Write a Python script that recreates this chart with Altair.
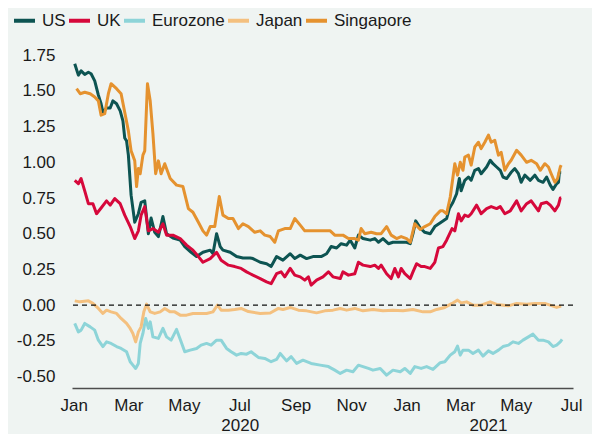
import altair as alt
import pandas as pd

series_names = ["US", "UK", "Eurozone", "Japan", "Singapore"]
series_colors = ["#0d5452", "#d6083b", "#8dd4d8", "#f4c07f", "#e5922f"]

# day offsets from 2020-01-01 and values
us_days = [1, 5, 8, 12, 16, 19, 23, 27, 30, 32, 36, 40, 43, 47, 51, 54, 56, 58, 60, 63, 67, 71, 74, 78, 82, 85, 89, 93, 98, 102, 109, 117, 122, 129, 135, 142, 150, 153, 157, 161, 164, 172, 179, 186, 194, 197, 205, 212, 217, 223, 230, 238, 243, 249, 256, 263, 272, 278, 283, 289, 294, 300, 304, 309, 313, 318, 326, 331, 335, 340, 346, 351, 359, 366, 370, 373, 376, 381, 386, 392, 397, 404, 410, 413, 417, 421, 424, 426, 430, 434, 437, 441, 445, 448, 454, 458, 461, 465, 469, 472, 476, 481, 485, 489, 492, 496, 502, 507, 511, 516, 520, 524, 527, 531, 533, 534, 536]
us_vals = [1.69, 1.61, 1.64, 1.615, 1.63, 1.62, 1.57, 1.47, 1.41, 1.35, 1.38, 1.38, 1.43, 1.41, 1.36, 1.29, 1.17, 1.15, 1.05, 0.77, 0.58, 0.64, 0.72, 0.73, 0.50, 0.61, 0.51, 0.48, 0.62, 0.50, 0.47, 0.455, 0.41, 0.37, 0.34, 0.37, 0.385, 0.36, 0.50, 0.41, 0.385, 0.37, 0.34, 0.33, 0.33, 0.326, 0.30, 0.29, 0.27, 0.34, 0.315, 0.36, 0.326, 0.35, 0.326, 0.34, 0.34, 0.36, 0.41, 0.40, 0.43, 0.42, 0.455, 0.40, 0.49, 0.466, 0.455, 0.466, 0.44, 0.466, 0.43, 0.44, 0.44, 0.44, 0.43, 0.50, 0.59, 0.54, 0.51, 0.50, 0.55, 0.58, 0.606, 0.676, 0.72, 0.78, 0.886, 0.80, 0.874, 0.897, 0.874, 0.944, 0.956, 0.92, 0.967, 1.014, 0.99, 0.967, 0.944, 0.897, 0.886, 0.93, 0.956, 0.92, 0.86, 0.91, 0.874, 0.91, 0.874, 0.86, 0.897, 0.84, 0.81, 0.85, 0.86, 0.93, 0.93]

uk_days = [1, 5, 8, 12, 16, 21, 25, 30, 36, 40, 45, 51, 56, 62, 67, 71, 74, 78, 82, 87, 93, 98, 102, 109, 117, 124, 131, 137, 142, 150, 157, 162, 170, 177, 184, 190, 194, 197, 205, 212, 217, 223, 228, 232, 238, 243, 249, 254, 258, 261, 267, 274, 280, 285, 293, 296, 302, 309, 313, 318, 326, 331, 335, 338, 344, 349, 353, 357, 360, 364, 370, 373, 377, 382, 386, 392, 397, 401, 406, 410, 416, 419, 423, 426, 430, 434, 437, 443, 448, 454, 459, 465, 469, 474, 480, 487, 492, 498, 503, 511, 514, 520, 524, 529, 533, 535, 536]
uk_vals = [0.874, 0.85, 0.886, 0.80, 0.71, 0.71, 0.64, 0.68, 0.73, 0.70, 0.746, 0.71, 0.63, 0.55, 0.466, 0.52, 0.63, 0.69, 0.52, 0.536, 0.51, 0.57, 0.49, 0.49, 0.466, 0.42, 0.385, 0.34, 0.30, 0.326, 0.37, 0.315, 0.28, 0.27, 0.257, 0.233, 0.22, 0.21, 0.186, 0.163, 0.15, 0.22, 0.233, 0.198, 0.257, 0.21, 0.198, 0.175, 0.198, 0.14, 0.175, 0.198, 0.233, 0.198, 0.186, 0.233, 0.21, 0.22, 0.30, 0.28, 0.27, 0.28, 0.257, 0.28, 0.22, 0.186, 0.257, 0.198, 0.257, 0.22, 0.186, 0.233, 0.29, 0.27, 0.27, 0.257, 0.30, 0.40, 0.41, 0.455, 0.536, 0.52, 0.64, 0.59, 0.63, 0.62, 0.64, 0.70, 0.64, 0.676, 0.69, 0.676, 0.69, 0.64, 0.66, 0.73, 0.66, 0.71, 0.73, 0.66, 0.71, 0.72, 0.70, 0.66, 0.70, 0.75, 0.75]

ez_days = [1, 5, 8, 12, 18, 23, 27, 32, 36, 41, 47, 52, 58, 62, 65, 68, 71, 73, 76, 79, 82, 84, 87, 93, 98, 102, 107, 113, 118, 122, 128, 135, 140, 146, 151, 157, 162, 168, 173, 179, 184, 190, 195, 203, 210, 217, 223, 227, 234, 239, 245, 252, 261, 271, 280, 287, 293, 300, 307, 313, 318, 324, 329, 337, 344, 351, 359, 364, 370, 375, 382, 388, 395, 403, 408, 414, 419, 422, 425, 428, 434, 439, 445, 450, 456, 461, 467, 472, 478, 483, 489, 494, 500, 505, 511, 516, 522, 527, 531, 535, 537]
ez_vals = [-0.128, -0.187, -0.175, -0.128, -0.152, -0.175, -0.245, -0.29, -0.257, -0.268, -0.29, -0.303, -0.326, -0.396, -0.42, -0.443, -0.408, -0.268, -0.198, -0.093, -0.163, -0.117, -0.222, -0.233, -0.163, -0.222, -0.245, -0.17, -0.257, -0.326, -0.315, -0.303, -0.28, -0.268, -0.28, -0.245, -0.245, -0.303, -0.326, -0.35, -0.338, -0.343, -0.326, -0.366, -0.373, -0.396, -0.38, -0.338, -0.39, -0.36, -0.408, -0.385, -0.408, -0.42, -0.43, -0.455, -0.478, -0.455, -0.466, -0.42, -0.43, -0.443, -0.455, -0.443, -0.49, -0.455, -0.466, -0.443, -0.478, -0.43, -0.443, -0.43, -0.45, -0.403, -0.396, -0.35, -0.326, -0.287, -0.35, -0.315, -0.315, -0.338, -0.315, -0.357, -0.32, -0.338, -0.315, -0.29, -0.28, -0.257, -0.268, -0.245, -0.222, -0.203, -0.245, -0.245, -0.257, -0.29, -0.28, -0.257, -0.24]

jp_days = [1, 7, 16, 21, 27, 32, 36, 41, 47, 52, 58, 62, 65, 68, 71, 74, 77, 80, 84, 89, 95, 100, 106, 111, 117, 124, 131, 139, 146, 153, 158, 162, 170, 177, 184, 192, 205, 216, 225, 230, 238, 247, 256, 267, 276, 285, 293, 300, 309, 318, 329, 340, 351, 362, 373, 384, 392, 399, 408, 416, 422, 426, 432, 439, 448, 458, 465, 478, 487, 498, 507, 518, 527, 531, 536]
jp_vals = [0.03, 0.023, 0.03, 0.012, -0.023, -0.058, -0.035, -0.047, -0.058, -0.093, -0.128, -0.163, -0.198, -0.257, -0.187, -0.152, -0.047, 0.007, -0.047, -0.058, -0.047, -0.023, -0.047, -0.047, -0.07, -0.07, -0.058, -0.058, -0.058, -0.047, 0.0, -0.035, -0.035, -0.03, -0.023, -0.045, -0.058, -0.055, -0.023, -0.03, -0.016, -0.035, -0.04, -0.054, -0.04, -0.035, -0.023, -0.035, -0.023, -0.04, -0.03, -0.04, -0.035, -0.04, -0.03, -0.047, -0.047, -0.03, -0.016, 0.012, 0.035, 0.016, 0.023, 0.0, 0.0, 0.023, 0.005, -0.005, 0.012, 0.007, 0.012, 0.012, -0.007, -0.016, -0.007]

sg_days = [3, 7, 12, 18, 23, 27, 30, 34, 38, 41, 47, 52, 56, 60, 63, 67, 69, 71, 73, 76, 78, 81, 84, 87, 90, 93, 96, 100, 106, 113, 120, 126, 131, 137, 142, 146, 150, 155, 160, 164, 170, 175, 181, 186, 192, 199, 205, 210, 216, 221, 225, 232, 238, 243, 249, 254, 267, 282, 287, 296, 302, 309, 313, 316, 320, 327, 333, 338, 344, 349, 355, 360, 366, 370, 375, 381, 386, 392, 397, 403, 406, 410, 414, 417, 419, 422, 425, 428, 430, 434, 437, 441, 445, 448, 452, 456, 459, 463, 467, 470, 474, 478, 481, 487, 492, 498, 503, 509, 513, 518, 522, 525, 529, 532, 535, 536]
sg_vals = [1.515, 1.48, 1.49, 1.48, 1.457, 1.43, 1.33, 1.34, 1.48, 1.55, 1.515, 1.48, 1.35, 1.22, 1.08, 1.01, 0.83, 0.956, 0.92, 1.05, 1.08, 1.55, 1.43, 1.20, 0.92, 1.01, 0.92, 0.99, 0.886, 0.84, 0.83, 0.676, 0.65, 0.58, 0.52, 0.49, 0.55, 0.55, 0.76, 0.63, 0.606, 0.606, 0.536, 0.57, 0.55, 0.51, 0.52, 0.49, 0.48, 0.44, 0.52, 0.536, 0.536, 0.606, 0.56, 0.52, 0.52, 0.52, 0.49, 0.49, 0.466, 0.466, 0.455, 0.536, 0.50, 0.51, 0.50, 0.50, 0.55, 0.49, 0.466, 0.48, 0.466, 0.44, 0.57, 0.53, 0.55, 0.57, 0.62, 0.66, 0.66, 0.64, 0.757, 0.897, 0.99, 0.91, 1.0, 0.944, 1.037, 1.05, 0.98, 1.107, 1.14, 1.096, 1.14, 1.19, 1.14, 1.154, 1.05, 1.07, 0.944, 0.99, 1.014, 1.084, 1.05, 1.0, 1.014, 0.99, 0.944, 0.99, 0.967, 0.92, 0.86, 0.886, 0.967, 0.98]

y_ticks = [-0.5, -0.25, 0.0, 0.25, 0.5, 0.75, 1.0, 1.25, 1.5, 1.75]
year_labels = ["2020", "2021"]
year_label_dates = ["2020-07-02", "2021-04-01"]

start = pd.Timestamp("2020-01-01")
rows = []
for name, days, vals in zip(series_names,
                            [us_days, uk_days, ez_days, jp_days, sg_days],
                            [us_vals, uk_vals, ez_vals, jp_vals, sg_vals]):
    for d, v in zip(days, vals):
        rows.append({"date": start + pd.Timedelta(days=d), "series": name, "value": v})
df = pd.DataFrame(rows)

FONT = "Liberation Sans"
TXT = "#1a1a1a"
W, H = 501, 340

x_scale = alt.Scale(domain=[alt.DateTime(year=2019, month=12, date=30),
                            alt.DateTime(year=2021, month=7, date=3)])
y_scale = alt.Scale(domain=[-0.58, 1.80], nice=False, zero=False)

month_ticks = [alt.DateTime(year=y, month=m, date=1)
               for (y, m) in [(2020, 1), (2020, 3), (2020, 5), (2020, 7), (2020, 9), (2020, 11),
                              (2021, 1), (2021, 3), (2021, 5), (2021, 7)]]

x_axis = alt.Axis(values=month_ticks, labelExpr="timeFormat(datum.value, '%b')",
                  title=None, grid=False, ticks=False, domain=True,
                  domainColor="#4d4d4d", domainWidth=1.5,
                  labelFontSize=17, labelFont=FONT, labelColor=TXT,
                  labelPadding=9, labelOverlap=False)
y_axis = alt.Axis(values=y_ticks,
                  labelExpr="(datum.value < 0 ? '-' : '') + format(abs(datum.value), '.2f')",
                  title=None, grid=False, ticks=False, domain=False, labelOverlap=False,
                  labelFontSize=17, labelFont=FONT, labelColor=TXT, labelPadding=17)

color = alt.Color("series:N",
                  scale=alt.Scale(domain=series_names, range=series_colors),
                  legend=alt.Legend(title=None, orient="none", legendX=-60, legendY=-40,
                                    direction="horizontal", symbolType="stroke",
                                    symbolStrokeWidth=4, symbolSize=441,
                                    labelFontSize=17, labelFont=FONT, labelColor=TXT,
                                    labelOffset=5, columnPadding=-5, padding=0))

base = alt.Chart(df).mark_line(strokeWidth=3, strokeJoin="round").encode(
    x=alt.X("date:T", scale=x_scale, axis=x_axis),
    y=alt.Y("value:Q", scale=y_scale, axis=y_axis),
    color=color,
)
line_layers = [base.transform_filter(alt.datum.series == n) for n in series_names]

zero = alt.Chart(pd.DataFrame({"v": [0.0]})).mark_rule(
    strokeDash=[5, 4], color="#111111", strokeWidth=1.3
).encode(y=alt.Y("v:Q", scale=y_scale, axis=y_axis))

years = alt.Chart(pd.DataFrame({"date": pd.to_datetime(year_label_dates), "label": year_labels})).mark_text(
    fontSize=17, font=FONT, color=TXT, align="center", baseline="middle"
).encode(x=alt.X("date:T", scale=x_scale, axis=x_axis), y=alt.value(H + 38), text="label:N")

chart = alt.layer(*line_layers, zero, years).properties(
    width=W, height=H,
    padding={"left": 64, "top": 40, "right": 19, "bottom": 46},
    autosize=alt.AutoSizeParams(type="none"),
    background="#eff4f2",
).configure_view(stroke=None).configure_axis(labelOverlap=False)

chart.save("out.html", embed_options={"renderer": "svg", "actions": False})
